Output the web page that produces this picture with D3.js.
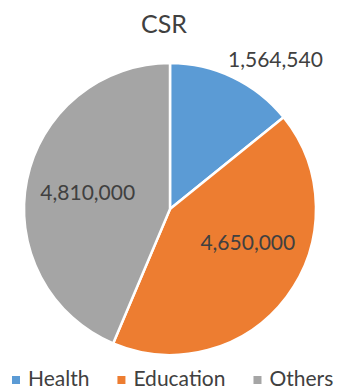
<!DOCTYPE html>
<html>
<head>
<meta charset="utf-8">
<style>
  body { margin: 0; background: #fff; font-family: Lato, "Open Sans", sans-serif; }
  svg text { fill: #404040; }
</style>
</head>
<body>
<div id="vis"></div>
<script src="https://d3js.org/d3.v7.min.js"></script>
<script>
var categories = ["Health", "Education", "Others"];
var values = [1564540, 4650000, 4810000];
var colors = ["#5B9BD5", "#ED7D31", "#A5A5A5"];
var title = "CSR";

var width = 342, height = 389;
var cx = 170, cy = 209, radius = 146;

var svg = d3.select("#vis").append("svg")
    .attr("width", width)
    .attr("height", height);

svg.append("text")
    .attr("x", 164)
    .attr("y", 33)
    .attr("text-anchor", "middle")
    .style("font-size", "25px")
    .text(title);

var data = categories.map(function(c, i) { return {name: c, value: values[i], color: colors[i]}; });

var pie = d3.pie().sort(null).value(function(d) { return d.value; });
var arc = d3.arc().innerRadius(0).outerRadius(radius);

var g = svg.append("g").attr("transform", "translate(" + cx + "," + cy + ")");

var arcs = pie(data);

g.selectAll("path")
    .data(arcs)
  .enter().append("path")
    .attr("d", arc)
    .attr("fill", function(d) { return d.data.color; })
    .attr("stroke", "#fff")
    .attr("stroke-width", 2.5)
    .attr("stroke-linejoin", "round");

// label placement: angle shift (rad) and radius factor per slice, roughly like excel's best fit
var labelLayout = [
  {shift: 0.17, r: 1.25},
  {shift: -0.24, r: 0.58},
  {shift: 0, r: 0.575}
];

var fmt = d3.format(",");
g.selectAll(".lbl")
    .data(arcs)
  .enter().append("text")
    .attr("class", "lbl")
    .attr("text-anchor", "middle")
    .attr("dy", "0.35em")
    .style("font-size", "21px")
    .attr("transform", function(d, i) {
      var a = (d.startAngle + d.endAngle) / 2 + labelLayout[i].shift;
      var r = radius * labelLayout[i].r;
      return "translate(" + (r * Math.sin(a)) + "," + (-r * Math.cos(a)) + ")";
    })
    .text(function(d) { return fmt(d.data.value); });

// legend
var legend = svg.append("g").attr("transform", "translate(12,379)");
var lx = 0;
data.forEach(function(d) {
  var item = legend.append("g").attr("transform", "translate(" + lx + ",0)");
  item.append("rect")
      .attr("x", 0).attr("y", -3)
      .attr("width", 8).attr("height", 8)
      .attr("fill", d.color);
  var t = item.append("text")
      .attr("x", 16)
      .attr("dy", "0.35em")
      .style("font-size", "21px")
      .text(d.name);
  lx += 16 + t.node().getComputedTextLength() + 28;
});
</script>
</body>
</html>
